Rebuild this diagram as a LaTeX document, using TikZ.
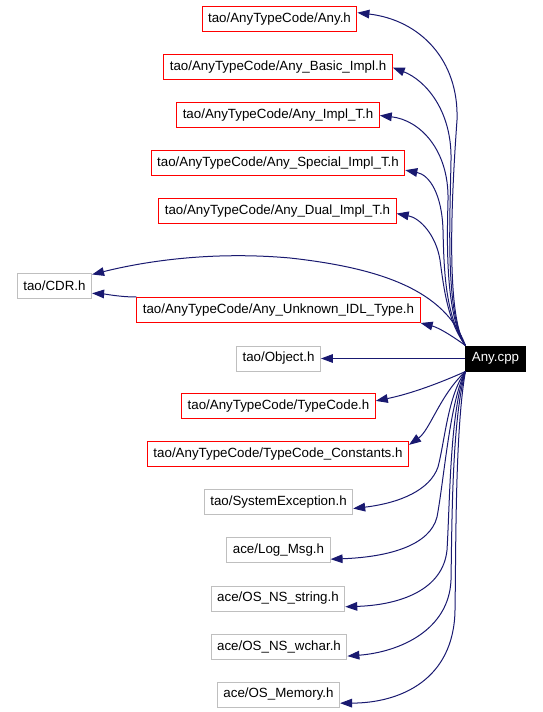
\documentclass[tikz,border=0pt]{standalone}
\usepackage{fontspec}
\setmainfont{Liberation Sans}
\usepackage{tikz}
\usetikzlibrary{arrows.meta}
\definecolor{edgeblue}{HTML}{191970}
\definecolor{boxgray}{HTML}{BFBFBF}
\definecolor{boxred}{HTML}{FF0000}
\tikzset{
	file/.style={draw, line width=0.75pt, inner xsep=4.5pt, inner ysep=0pt,
		minimum height=18.75pt, fill=white, font=\fontsize{10}{12}\selectfont},
	dep/.style={draw=edgeblue, line width=0.75pt, -{Triangle[length=9pt,width=6.5pt]}}
}
\newcommand{\incnode}[5][boxgray]{
	\node [file, draw=#1] (#2) at (#3, #4) {#5};
}
\newcommand{\increl}[3]{
	% the curve pieces go in between
	\path [dep] (#1) #3 (#2);
}

\begin{document}
\begin{tikzpicture}[x=0.75pt, y=-0.75pt]
		\useasboundingbox (0,0) rectangle (542,712);
		\incnode[boxred]{anyh}{279.5}{19.5}{tao/AnyTypeCode/Any.h}
		\incnode[boxred]{basic}{278}{67.5}{tao/AnyTypeCode/Any\_Basic\_Impl.h}
		\incnode[boxred]{implt}{278}{115.5}{tao/AnyTypeCode/Any\_Impl\_T.h}
		\incnode[boxred]{special}{278}{163.5}{tao/AnyTypeCode/Any\_Special\_Impl\_T.h}
		\incnode[boxred]{dual}{277.5}{211.5}{tao/AnyTypeCode/Any\_Dual\_Impl\_T.h}
		\incnode{cdr}{54.5}{286}{tao/CDR.h}
		\incnode[boxred]{unknown}{278.5}{310}{tao/AnyTypeCode/Any\_Unknown\_IDL\_Type.h}
		\incnode{object}{278.5}{358.5}{tao/Object.h}
		\incnode[boxred]{typecode}{278.5}{406}{tao/AnyTypeCode/TypeCode.h}
		\incnode[boxred]{tcconst}{278}{454}{tao/AnyTypeCode/TypeCode\_Constants.h}
		\incnode{sysexc}{278.5}{502}{tao/SystemException.h}
		\incnode{logmsg}{278.5}{550}{ace/Log\_Msg.h}
		\incnode{nsstring}{278}{598.5}{ace/OS\_NS\_string.h}
		\incnode{nswchar}{279}{646.5}{ace/OS\_NS\_wchar.h}
		\incnode{memory}{278.5}{694.5}{ace/OS\_Memory.h}
		\node [file, draw=black, fill=black, text=white] (cpp) at (495.5, 358.5) {Any.cpp};
		
		\increl{cpp.north west}{anyh.5}{.. controls (445,315) and (452,190) .. (457,120) .. controls (459,60) and (420,20) ..}
		\increl{cpp.north west}{basic.east}{.. controls (445,315) and (450,220) .. (451,160) .. controls (452,110) and (425,80) ..}
		\increl{cpp.north west}{implt.east}{.. controls (445,315) and (447,240) .. (448,200) .. controls (449,150) and (420,120) ..}
		\increl{cpp.north west}{special.-3}{.. controls (445,315) and (444,270) .. (443,230) .. controls (442,195) and (430,175) ..}
		\increl{cpp.north west}{dual.-1}{.. controls (448,322) and (444,290) .. (440,260) .. controls (436,235) and (420,218) ..}
		\increl{cpp.north west}{cdr.17}{.. controls (445,290) and (380,268) .. (290,258) .. controls (200,250) and (130,265) ..}
		\increl{unknown.north west}{cdr.-11}{.. controls (120,297) and (105,294) ..}
		\increl{cpp.north west}{unknown.south east}{.. controls (455,338) and (440,328) ..}
		\increl{cpp.west}{object.east}{--}
		\increl{cpp.south west}{typecode.3}{.. controls (440,383) and (410,394) ..}
		\increl{cpp.south west}{tcconst.4}{.. controls (440,395) and (430,430) ..}
		\increl{cpp.south west}{sysexc.-5}{.. controls (448,395) and (445,440) .. (438,467) .. controls (430,490) and (400,503) ..}
		\increl{cpp.south west}{logmsg.-10}{.. controls (450,400) and (444,480) .. (437,517) .. controls (430,545) and (390,557) ..}
		\increl{cpp.south west}{nsstring.-7}{.. controls (450,410) and (450,500) .. (447,550) .. controls (443,590) and (400,605) ..}
		\increl{cpp.south west}{nswchar.-8}{.. controls (452,420) and (452,520) .. (451,580) .. controls (449,630) and (400,652) ..}
		\increl{cpp.south west}{memory.-8}{.. controls (455,430) and (456,550) .. (455,610) .. controls (454,680) and (400,703) ..}
\end{tikzpicture}
\end{document}
